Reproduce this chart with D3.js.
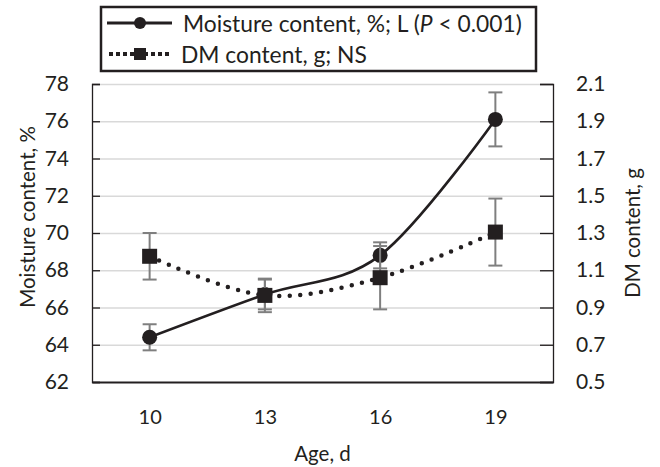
<!doctype html>
<html lang="en">
<head>
  <meta charset="UTF-8">
  <title>Moisture and DM content</title>
  <style>
    body { margin: 0; background: #fff; }
    svg text { font-family: Lato, "Open Sans", sans-serif; fill: #231f20; }
  </style>
</head>
<body>
<div class="chart"></div>
<script src="https://d3js.org/d3.v7.min.js"></script>
<script>
  const ages = ['10', '13', '16', '19']
  const moisture = [64.4, 66.7, 68.8, 76.1]
  const moistureErr = [0.7, 0.8, 0.7, 1.45]
  const dm = [1.175, 0.965, 1.06, 1.305]
  const dmErr = [0.125, 0.09, 0.17, 0.18]
  const leftTicks = [62, 64, 66, 68, 70, 72, 74, 76, 78]
  const rightTicks = [0.5, 0.7, 0.9, 1.1, 1.3, 1.5, 1.7, 1.9, 2.1]

  const width = 660
  const height = 467
  const margin = {top: 84, right: 107, bottom: 85, left: 92}
  const w = width - margin.left - margin.right
  const h = height - margin.top - margin.bottom
  const ink = '#231f20'

  const svg = d3.select('.chart')
    .append('svg')
    .attr('width', width)
    .attr('height', height)

  const g = svg.append('g').attr('transform', `translate(${margin.left},${margin.top})`)

  const x = d3.scalePoint().domain(ages).range([0, w]).padding(0.5)
  const yL = d3.scaleLinear().domain([62, 78]).range([h, 0])
  const yR = d3.scaleLinear().domain([0.5, 2.1]).range([h, 0])

  // gridlines
  g.append('g')
    .call(d3.axisLeft(yL).tickValues(leftTicks.slice(1)).tickSize(-w).tickFormat(''))
    .call(s => s.select('.domain').remove())
    .call(s => s.selectAll('line').attr('stroke', '#d9d9d9').attr('stroke-width', 1.5))

  const left = g.append('g')
    .call(d3.axisLeft(yL).tickValues(leftTicks).tickSize(-8).tickPadding(23).tickFormat(d3.format('d')))
  const right = g.append('g')
    .attr('transform', `translate(${w},0)`)
    .call(d3.axisRight(yR).tickValues(rightTicks).tickSize(-13).tickPadding(23).tickFormat(d3.format('.1f')))
  ;[left, right].forEach(a => {
    a.select('.domain').attr('stroke', ink).attr('stroke-width', 1.3)
    a.selectAll('.tick line').attr('stroke', ink).attr('stroke-width', 1.3)
    a.selectAll('.tick text').style('font-size', '21px').attr('fill', ink)
  })

  const bottom = g.append('g')
    .attr('transform', `translate(0,${h})`)
    .call(d3.axisBottom(x).tickSize(0).tickPadding(28))
  bottom.select('.domain').attr('stroke', ink).attr('stroke-width', 2)
  bottom.selectAll('.tick text').style('font-size', '20px').attr('fill', ink)

  // axis titles
  svg.append('text')
    .attr('transform', `translate(27,${margin.top + h / 2 - 16}) rotate(-90)`)
    .attr('text-anchor', 'middle').attr('dominant-baseline', 'central')
    .style('font-size', '20.5px')
    .text('Moisture content, %')
  svg.append('text')
    .attr('transform', `translate(632,${margin.top + h / 2}) rotate(-90)`)
    .attr('text-anchor', 'middle').attr('dominant-baseline', 'central')
    .style('font-size', '20.5px')
    .text('DM content, g')
  svg.append('text')
    .attr('x', margin.left + w / 2).attr('y', 453)
    .attr('text-anchor', 'middle').attr('dominant-baseline', 'central')
    .style('font-size', '20.5px')
    .text('Age, d')

  const curve = d3.curveCardinal.tension(0)

  function errorBars (vals, errs, y) {
    const eb = g.append('g').attr('stroke', '#7f7f7f').attr('stroke-width', 2)
    vals.forEach((v, i) => {
      const cx = x(ages[i])
      eb.append('line').attr('x1', cx).attr('x2', cx).attr('y1', y(v - errs[i])).attr('y2', y(v + errs[i]))
      ;[v - errs[i], v + errs[i]].forEach(e => {
        eb.append('line').attr('x1', cx - 7).attr('x2', cx + 7).attr('y1', y(e)).attr('y2', y(e))
      })
    })
  }

  // moisture series
  errorBars(moisture, moistureErr, yL)
  g.append('path')
    .datum(moisture)
    .attr('fill', 'none').attr('stroke', ink).attr('stroke-width', 2.6)
    .attr('d', d3.line().x((d, i) => x(ages[i])).y(d => yL(d)).curve(curve))
  g.selectAll('.dot')
    .data(moisture)
    .enter().append('circle')
    .attr('cx', (d, i) => x(ages[i])).attr('cy', d => yL(d)).attr('r', 7.5)
    .attr('fill', ink)

  // DM series
  errorBars(dm, dmErr, yR)
  g.append('path')
    .datum(dm)
    .attr('fill', 'none').attr('stroke', ink).attr('stroke-width', 4.5)
    .attr('stroke-linecap', 'round').attr('stroke-dasharray', '0 10.5')
    .attr('d', d3.line().x((d, i) => x(ages[i])).y(d => yR(d)).curve(curve))
  g.selectAll('.sq')
    .data(dm)
    .enter().append('rect')
    .attr('x', (d, i) => x(ages[i]) - 7.5).attr('y', d => yR(d) - 7.5)
    .attr('width', 15).attr('height', 15)
    .attr('fill', ink)

  // legend
  const lg = svg.append('g')
  lg.append('rect')
    .attr('x', 101).attr('y', 7).attr('width', 435).attr('height', 64)
    .attr('fill', '#fff').attr('stroke', ink).attr('stroke-width', 2.5)
  const row1 = 23
  const row2 = 54
  lg.append('line').attr('x1', 107).attr('x2', 172).attr('y1', row1).attr('y2', row1)
    .attr('stroke', ink).attr('stroke-width', 3)
  lg.append('circle').attr('cx', 140).attr('cy', row1).attr('r', 6).attr('fill', ink)
  lg.append('line').attr('x1', 109).attr('x2', 172).attr('y1', row2).attr('y2', row2)
    .attr('stroke', ink).attr('stroke-width', 4).attr('stroke-dasharray', '4 3')
  lg.append('rect').attr('x', 134).attr('y', row2 - 6).attr('width', 12).attr('height', 12).attr('fill', ink)
  const t1 = lg.append('text').attr('x', 183).attr('y', row1).attr('dominant-baseline', 'central').style('font-size', '22.8px')
  t1.append('tspan').text('Moisture content, %; L (')
  t1.append('tspan').style('font-style', 'italic').text('P')
  t1.append('tspan').text(' < 0.001)')
  lg.append('text').attr('x', 181).attr('y', row2).attr('dominant-baseline', 'central').style('font-size', '22.8px')
    .text('DM content, g; NS')
</script>
</body>
</html>
